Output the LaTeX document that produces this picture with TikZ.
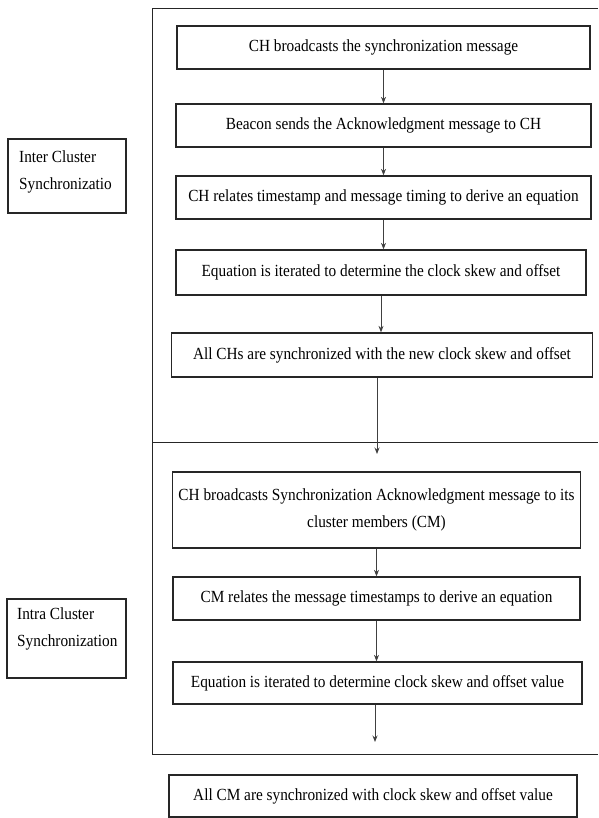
\documentclass[tikz,border=0pt]{standalone}
\usepackage{fontspec}
\setmainfont{Liberation Serif}[FakeStretch=0.9]
\usetikzlibrary{arrows.meta}
\begin{document}
\begin{tikzpicture}[x=1pt,y=-1pt,
  stepbox/.style={draw=black!85, line width=1.3pt, inner sep=0pt, align=center, font=\fontsize{17}{27}\selectfont},
  sidebox/.style={draw=black!85, line width=1.3pt, inner sep=0pt},
  sidetext/.style={anchor=north west, align=left, inner sep=0pt, font=\fontsize{17}{27}\selectfont},
  arr/.style={draw=black!75, line width=0.9pt, -{Stealth[length=6.5pt,width=5pt]}},
  frame/.style={draw=black!85, line width=1pt}]
\useasboundingbox (0,0) rectangle (598,818);
\fill[white] (0,0) rectangle (598,818);
% outer frame
\draw[frame] (598,9) -- (152,9) -- (152,754) -- (598,754);
\draw[frame] (152,442) -- (598,442);
% step boxes
\node[stepbox, minimum width=413pt, minimum height=43pt] (b1) at (383.5,47.5) {CH broadcasts the synchronization message};
\node[stepbox, minimum width=415pt, minimum height=43pt] (b2) at (383.5,125.5) {Beacon sends the Acknowledgment message to CH};
\node[stepbox, minimum width=415pt, minimum height=43pt] (b3) at (383.5,197.5) {CH relates timestamp and message timing to derive an equation};
\node[stepbox, minimum width=410pt, minimum height=45pt] (b4) at (381,272.5) {Equation is iterated to determine the clock skew and offset};
\node[stepbox, minimum width=421pt, minimum height=44pt] (b5) at (382,355) {All CHs are synchronized with the new clock skew and offset};
\node[stepbox, minimum width=408pt, minimum height=76pt] (b6) at (376.5,510) {CH broadcasts Synchronization Acknowledgment message to its\\cluster members (CM)};
\node[stepbox, minimum width=407pt, minimum height=43pt] (b7) at (376.5,598.5) {CM relates the message timestamps to derive an equation};
\node[stepbox, minimum width=409pt, minimum height=42pt] (b8) at (377.5,683) {Equation is iterated to determine clock skew and offset value};
\node[stepbox, minimum width=408pt, minimum height=42pt] (b9) at (373,796) {All CM are synchronized with clock skew and offset value};
% side labels
\node[sidebox, minimum width=118pt, minimum height=74pt] (L1) at (67,176) {};
\node[sidetext] (L1t) at (19,151) {Inter Cluster\\Synchronizatio};
\node[sidebox, minimum width=119pt, minimum height=79pt] (L2) at (66.5,638.5) {};
\node[sidetext] (L2t) at (17,607) {Intra Cluster\\Synchronization};
% free arrow ends
\coordinate (e5) at (377,454);
\coordinate (e8) at (375,742);
% connectors
\draw[arr] (b1.south) -- (b1.south |- b2.north);
\draw[arr] (b2.south) -- (b2.south |- b3.north);
\draw[arr] (b3.south) -- (b3.south |- b4.north);
\draw[arr] (b4.south) -- (b4.south |- b5.north);
\draw[arr] (b5.south -| e5) -- (e5);
\draw[arr] (b6.south) -- (b6.south |- b7.north);
\draw[arr] (b7.south) -- (b7.south |- b8.north);
\draw[arr] (b8.south -| e8) -- (e8);
\end{tikzpicture}
\end{document}
